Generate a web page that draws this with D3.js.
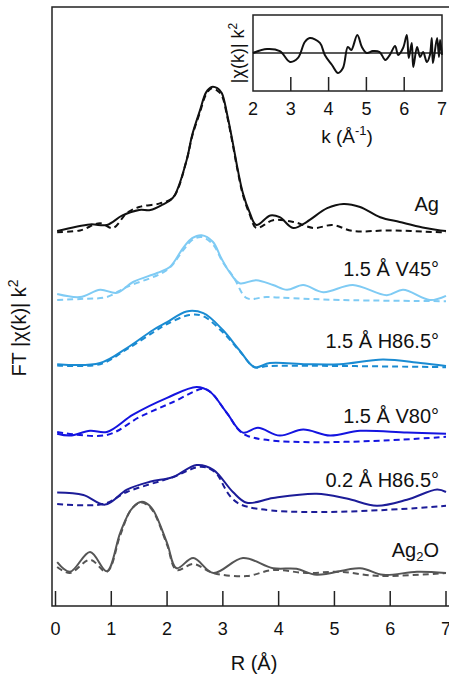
<!DOCTYPE html>
<html>
<head>
<meta charset="utf-8">
<script src="https://cdn.jsdelivr.net/npm/d3@7"></script>
<style>
  body { margin: 0; background: #fff; }
  svg text { font-family: "Liberation Sans", Arial, sans-serif; fill: #111; }
</style>
</head>
<body>
<div id="chart"></div>
<script>
// --- data ---
const xTicks = [0, 1, 2, 3, 4, 5, 6, 7];
const insetTicks = [2, 3, 4, 5, 6, 7];

const sampleNames = ["Ag", "1.5 Å V45°", "1.5 Å H86.5°", "1.5 Å V80°", "0.2 Å H86.5°", "Ag2O"];
const sampleOffsets = [62.3, 51, 39.8, 28.2, 16.7, 5];
const sampleColors = ["#111111", "#7fcbf4", "#1a8bd2", "#1414e0", "#1c1c98", "#555555"];

// [R, FT magnitude] pairs, relative to each curve's offset
const agData = [[0.03,0.2],[0.62,1.3],[0.92,1.2],[1.2,2.8],[1.5,3.7],[1.7,3.7],[1.9,4.5],[2.11,5.8],[2.35,12],[2.45,16.2],[2.59,20.3],[2.7,23.3],[2.8,24.2],[2.9,24],[2.98,23.2],[3.08,19.5],[3.18,14.8],[3.27,10.3],[3.36,6.5],[3.48,3.3],[3.6,1.2],[3.85,2.8],[4.02,2.5],[4.26,0.7],[4.5,1.7],[4.87,4],[5.16,4.7],[5.46,4.2],[5.82,2.5],[6.17,1.7],[6.58,0.8],[6.9,0.3],[7,0.2]];
const agFit = [[0.03,0],[0.44,0.3],[0.8,1.5],[1.03,0.7],[1.28,3.2],[1.5,4.2],[1.87,4.8],[2.11,5.8],[2.35,12],[2.45,16],[2.59,20],[2.7,23],[2.8,24],[2.9,23.6],[2.98,22.8],[3.08,19.2],[3.18,14.5],[3.27,10],[3.36,6.2],[3.48,3],[3.6,0.7],[3.9,2],[4.27,1.7],[4.63,0.7],[4.97,1.2],[5.33,0.2],[6,0.3],[6.9,0],[7,0]];

const v45Data = [[0.03,1],[0.44,0.5],[0.8,1.7],[1.1,1.2],[1.39,3],[1.82,4.5],[2.05,5.5],[2.29,8.7],[2.45,10.3],[2.62,10.8],[2.82,9.7],[2.97,7],[3.13,4.5],[3.3,2.8],[3.6,3.3],[3.9,2.5],[4.15,1.7],[4.44,2.5],[4.8,1.3],[5.33,2.5],[5.94,0.8],[6.23,1.7],[6.71,0],[7,0.7]];
const v45Fit = [[0.03,0],[0.5,0.2],[0.92,0.5],[1.28,2.2],[2,5],[2.29,8.3],[2.45,10],[2.62,10.5],[2.82,9.3],[3,6.3],[3.2,3.7],[3.43,0.3],[3.78,0.5],[4.26,0.3],[5.1,0],[7,-0.2]];

const h865Data = [[0.03,0.5],[0.8,0.7],[1.28,3.2],[1.75,6.2],[2,7.5],[2.35,9.3],[2.65,9],[3,6.2],[3.3,2.8],[3.57,0],[3.84,0.7],[4.5,0.5],[5.1,0.5],[5.87,1.3],[6.54,0.7],[7,0.2]];
const h865Fit = [[0.03,0.3],[0.8,0.5],[1.28,3],[1.75,5.8],[2,7.2],[2.4,8.7],[2.65,8.5],[3,5.8],[3.3,2.7],[3.57,0],[3.84,0.2],[7,0]];

const v80Data = [[0.03,0.5],[0.26,0.2],[0.62,1],[0.92,0.8],[1.39,3.7],[2,6.5],[2.53,8.3],[2.77,7.5],[3.07,4],[3.36,0.7],[3.63,1.5],[4.02,0.2],[4.44,1.2],[4.92,0.2],[5.46,1],[6.3,0.7],[7,0.5]];
const v80Fit = [[0.03,0.8],[0.92,0.3],[1.51,3.3],[2.11,5.8],[2.65,8],[2.8,7.3],[3.07,4],[3.43,0.2],[7,0]];

const h02Data = [[0.03,2.2],[0.5,1.8],[0.89,0.2],[1.28,2.7],[1.69,4],[2.11,4.8],[2.53,6.8],[2.83,6],[3.18,2.3],[3.43,0.5],[3.9,1.3],[4.68,2],[5.22,1.2],[5.76,0],[6.3,1],[6.84,2.7],[7,2.3]];
const h02Fit = [[0.03,0.3],[0.86,0.3],[1.28,2.3],[2.11,4.8],[2.6,6.5],[2.85,5.7],[3.3,0.3],[7,0]];

const ag2oData = [[0.03,2.3],[0.26,0.7],[0.62,4],[0.92,0.8],[1.16,7.2],[1.35,11],[1.51,12.3],[1.62,12.2],[1.75,11],[2,5.5],[2.17,1.3],[2.47,3],[2.83,0.5],[3.36,3],[3.9,1.3],[4.32,1.2],[4.68,0.2],[5.46,1.3],[5.87,0.2],[6.48,0.7],[7,0.5]];
const ag2oFit = [[0.03,1.5],[0.26,0.5],[0.62,2.7],[0.92,0.7],[1.16,6.8],[1.35,11],[1.51,12.2],[1.62,12],[1.75,10.8],[2,5.2],[2.17,1],[2.47,2],[2.83,0.5],[3.43,0],[3.9,1],[4.5,0.5],[5.1,0.7],[5.8,0],[7,0.5]];

const measured = [agData, v45Data, h865Data, v80Data, h02Data, ag2oData];
const fits = [agFit, v45Fit, h865Fit, v80Fit, h02Fit, ag2oFit];

// inset: k^2 weighted chi(k) for Ag
const insetData = [[2,0],[2.37,0.21],[2.71,0.1],[2.98,-0.47],[3.19,-0.26],[3.37,0.58],[3.5,0.79],[3.77,0.53],[3.9,-0.1],[4.09,-0.63],[4.25,-1.05],[4.38,-0.79],[4.51,0.32],[4.6,0.16],[4.76,0.95],[4.88,0.32],[5.01,0],[5.17,0.1],[5.35,0.05],[5.5,-0.37],[5.62,-0.1],[5.76,0.37],[5.84,-0.1],[5.97,0.26],[6.07,0.95],[6.12,-0.26],[6.2,0.53],[6.24,-0.74],[6.34,0.32],[6.42,-0.21],[6.5,0.05],[6.6,-0.47],[6.68,-0.1],[6.73,0.79],[6.76,-0.53],[6.87,0.79],[6.92,-0.21],[6.95,0.68],[7,-0.1]];

// --- layout ---
const width = 449, height = 675;
const svg = d3.select("#chart").append("svg")
    .attr("width", width)
    .attr("height", height);

const x = d3.scaleLinear().domain([0, 7]).range([55.5, 446]);
const y = d3.scaleLinear().domain([0, 100]).range([606, 6]);

// frame: left, top, bottom (cut at right edge)
svg.append("path")
    .attr("d", `M${width},7H52V606H${width}`)
    .attr("fill", "none")
    .attr("stroke", "#222")
    .attr("stroke-width", 1.5);

// inward ticks on bottom axis
svg.selectAll(".xtick")
    .data(xTicks)
    .enter().append("line")
    .attr("x1", d => x(d)).attr("x2", d => x(d))
    .attr("y1", 606).attr("y2", 591)
    .attr("stroke", "#222")
    .attr("stroke-width", 1.5);

svg.selectAll(".xlabel")
    .data(xTicks)
    .enter().append("text")
    .attr("x", d => x(d))
    .attr("y", 635)
    .attr("text-anchor", "middle")
    .attr("font-size", "18px")
    .text(d => d);

svg.append("text")
    .attr("x", 254)
    .attr("y", 670)
    .attr("text-anchor", "middle")
    .attr("font-size", "20px")
    .text("R (Å)");

// y axis title
const yTitle = svg.append("text")
    .attr("transform", "translate(26,328) rotate(-90)")
    .attr("text-anchor", "middle")
    .attr("font-size", "20px");
yTitle.append("tspan").text("FT |χ(k)| k");
yTitle.append("tspan").attr("dy", -8).attr("font-size", "14px").text("2");

// curves
const line = d3.line()
    .x(d => x(d[0]))
    .curve(d3.curveCatmullRom.alpha(0.5));

measured.forEach((data, i) => {
    const off = sampleOffsets[i];
    line.y(d => y(d[1] + off));
    svg.append("path")
        .datum(fits[i])
        .attr("d", line)
        .attr("fill", "none")
        .attr("stroke", sampleColors[i])
        .attr("stroke-width", 2)
        .attr("stroke-dasharray", "6,4");
    svg.append("path")
        .datum(data)
        .attr("d", line)
        .attr("fill", "none")
        .attr("stroke", sampleColors[i])
        .attr("stroke-width", 2);
});

// sample labels
const labelY = [211, 276, 348, 423, 487, 557];
sampleNames.forEach((name, i) => {
    const t = svg.append("text")
        .attr("x", 439)
        .attr("y", labelY[i])
        .attr("text-anchor", "end")
        .attr("font-size", "20px");
    if (name === "Ag2O") {
        t.append("tspan").text("Ag");
        t.append("tspan").attr("dy", 4).attr("font-size", "13px").text("2");
        t.append("tspan").attr("dy", -4).text("O");
    } else {
        t.text(name);
    }
});

// --- inset ---
const kx = d3.scaleLinear().domain([2, 7]).range([253, 442]);
const ky = d3.scaleLinear().domain([-2, 2]).range([91, 15]);

svg.append("rect")
    .attr("x", 253).attr("y", 15)
    .attr("width", 189).attr("height", 76)
    .attr("fill", "#fff")
    .attr("stroke", "#222")
    .attr("stroke-width", 1.5);

svg.append("line")
    .attr("x1", kx(2)).attr("x2", kx(7))
    .attr("y1", ky(0)).attr("y2", ky(0))
    .attr("stroke", "#222")
    .attr("stroke-width", 1.5);

svg.selectAll(".ktick")
    .data(insetTicks.slice(1, -1))
    .enter().append("line")
    .attr("x1", d => kx(d)).attr("x2", d => kx(d))
    .attr("y1", 91).attr("y2", 77)
    .attr("stroke", "#222")
    .attr("stroke-width", 1.5);

svg.selectAll(".klabel")
    .data(insetTicks)
    .enter().append("text")
    .attr("x", d => kx(d))
    .attr("y", 115)
    .attr("text-anchor", "middle")
    .attr("font-size", "18px")
    .text(d => d);

const kTitle = svg.append("text")
    .attr("x", 347)
    .attr("y", 143)
    .attr("text-anchor", "middle")
    .attr("font-size", "19px");
kTitle.append("tspan").text("k (Å");
kTitle.append("tspan").attr("dy", -8).attr("font-size", "13px").text("-1");
kTitle.append("tspan").attr("dy", 8).text(")");

const kyTitle = svg.append("text")
    .attr("transform", "translate(244,53) rotate(-90)")
    .attr("text-anchor", "middle")
    .attr("font-size", "18px");
kyTitle.append("tspan").text("|χ(k)| k");
kyTitle.append("tspan").attr("dy", -7).attr("font-size", "12px").text("2");

svg.append("path")
    .datum(insetData)
    .attr("d", d3.line().x(d => kx(d[0])).y(d => ky(d[1])).curve(d3.curveCatmullRom))
    .attr("fill", "none")
    .attr("stroke", "#111")
    .attr("stroke-width", 2);
</script>
</body>
</html>
